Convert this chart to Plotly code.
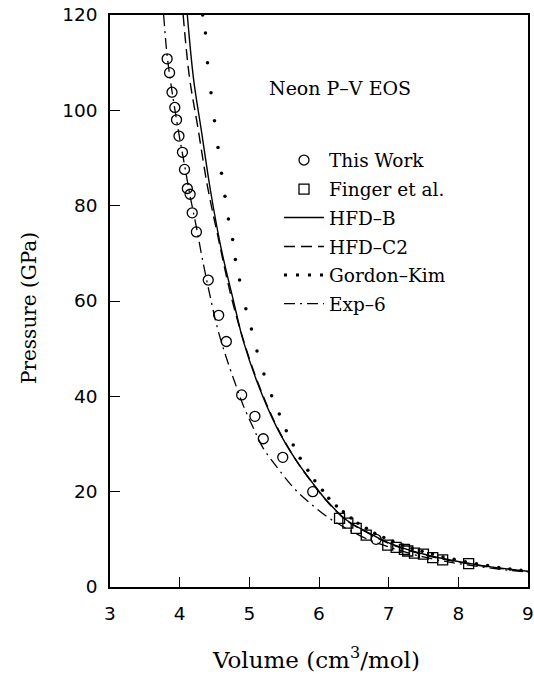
import plotly.graph_objects as go

# ---- data ----
tw_v = [3.82, 3.855, 3.89, 3.93, 3.955, 3.99, 4.04, 4.07, 4.11, 4.15, 4.18, 4.24, 4.41, 4.56, 4.67, 4.89, 5.08, 5.20, 5.48, 5.91, 6.82]
tw_p = [110.8, 107.9, 103.8, 100.6, 98.0, 94.6, 91.2, 87.6, 83.6, 82.4, 78.5, 74.5, 64.4, 57.0, 51.5, 40.3, 35.8, 31.1, 27.2, 20.0, 10.0]

fi_v = [6.295, 6.414, 6.534, 6.678, 6.987, 7.107, 7.226, 7.274, 7.370, 7.499, 7.632, 7.775, 8.148]
fi_p = [14.4, 13.4, 12.3, 10.9, 8.8, 8.3, 7.9, 7.55, 7.1, 6.9, 6.15, 5.7, 4.9]

hfdb_v = [4.11, 4.20, 4.31, 4.45, 4.60, 4.77, 4.91, 5.12, 5.39, 5.67, 5.91, 6.10, 6.39, 6.68, 7.01, 7.58, 8.30, 9.0]
hfdb_p = [120, 106.5, 95.9, 82.5, 70.7, 60.2, 51.8, 42.7, 33.6, 26.6, 21.8, 18.3, 14.1, 11.6, 9.2, 6.6, 4.6, 3.3]

hfdc2_v = [4.05, 4.14, 4.26, 4.40, 4.55, 4.73, 4.90, 5.12, 5.39, 5.67, 5.91, 6.10, 6.39, 6.68, 7.01, 7.58, 8.30, 9.0]
hfdc2_p = [120, 107, 96.5, 84, 73.5, 61.5, 52.5, 43, 33.8, 26.6, 21.7, 18.2, 14.0, 11.5, 9.1, 6.5, 4.5, 3.2]

gk_v = [4.33, 4.37, 4.40, 4.45, 4.50, 4.55, 4.60, 4.65, 4.70, 4.76, 4.80, 4.86, 4.95, 5.03, 5.11, 5.21, 5.32,
        5.43, 5.53, 5.63, 5.73, 5.84, 5.94, 6.05, 6.14, 6.25, 6.35, 6.46, 6.56, 6.68, 6.80, 6.93, 7.06, 7.20,
        7.34, 7.48, 7.63, 7.78, 7.94, 8.10, 8.26, 8.42, 8.58, 8.74, 8.90]
gk_p = [120, 116.2, 110, 103.7, 97.8, 92.2, 86.8, 82.0, 77.2, 72.9, 68.7, 64.4, 58.4, 54.1, 49.5, 44.7, 40.1,
        36.3, 32.8, 29.8, 27.0, 24.5, 22.3, 20.3, 18.6, 17.0, 15.8, 14.5, 13.4, 12.3, 11.3, 10.4, 9.6, 8.8,
        8.1, 7.5, 6.9, 6.3, 5.8, 5.3, 4.9, 4.5, 4.1, 3.8, 3.5]

e6_v = [3.77, 3.82, 3.89, 3.99, 4.07, 4.15, 4.24, 4.33, 4.43, 4.53, 4.65, 4.79, 4.91, 5.05, 5.20, 5.41, 5.63, 5.87, 6.15, 6.39, 6.70, 7.00, 7.50, 8.00, 8.50, 9.00]
e6_p = [120, 111.5, 104, 95, 88.5, 82, 75.5, 68.5, 61.5, 55, 49, 43, 38.2, 33.6, 29.1, 24.9, 20.9, 17.6, 14.4, 12.3, 10.0, 8.4, 6.3, 4.9, 3.9, 3.1]

x_ticks = [3, 4, 5, 6, 7, 8, 9]
y_ticks = [0, 20, 40, 60, 80, 100, 120]

SERIF = "DejaVu Serif"
SANS = "DejaVu Sans"
BLK = "black"

fig = go.Figure()

fig.add_trace(go.Scatter(x=hfdb_v, y=hfdb_p, mode="lines", name="HFD\u2013B", legend="legend3",
                         line=dict(color=BLK, width=1.4, shape="spline", smoothing=1.0)))
fig.add_trace(go.Scatter(x=hfdc2_v, y=hfdc2_p, mode="lines", name="HFD\u2013C2", legend="legend4",
                         line=dict(color=BLK, width=1.4, dash="11px,6px", shape="spline", smoothing=1.0)))
fig.add_trace(go.Scatter(x=gk_v, y=gk_p, mode="markers", name="Gordon\u2013Kim", showlegend=False,
                         marker=dict(color=BLK, size=3.5, symbol="circle")))
fig.add_trace(go.Scatter(x=[None], y=[None], mode="lines", name="Gordon\u2013Kim", legend="legend5",
                         line=dict(color=BLK, width=3, dash="3px,9px")))
fig.add_trace(go.Scatter(x=e6_v, y=e6_p, mode="lines", name="Exp\u20136", legend="legend6",
                         line=dict(color=BLK, width=1.3, dash="11px,5px,2px,5px", shape="spline", smoothing=1.0)))
fig.add_trace(go.Scatter(x=tw_v, y=tw_p, mode="markers", name="This Work", legend="legend",
                         marker=dict(symbol="circle-open", size=10, color=BLK, line=dict(width=1.3, color=BLK))))
fig.add_trace(go.Scatter(x=fi_v, y=fi_p, mode="markers", name="Finger et al.", legend="legend2",
                         marker=dict(symbol="square-open", size=10, color=BLK, line=dict(width=1.3, color=BLK))))

# page body margin is removed (post_script below), so figure pixels == window pixels
W, H = 534, 675
L, R, T, B = 110, 6, 15, 88
pw, ph = W - L - R, H - T - B


def px(xp):
    return (xp - L) / pw


def py(yp):
    return (H - B - yp) / ph


leg_rows = [160.5, 189.5, 218, 247, 275.5, 304]
leg_left = 279
legfont = dict(family=SERIF, size=18.5, color=BLK)
legs = {}
for i, yy in enumerate(leg_rows):
    key = "legend" if i == 0 else f"legend{i + 1}"
    legs[key] = dict(x=px(leg_left), y=py(yy), xanchor="left", yanchor="middle",
                     bgcolor="rgba(0,0,0,0)", borderwidth=0, font=legfont, itemwidth=40)

axis_common = dict(showline=True, linecolor=BLK, linewidth=1.5, mirror=True, ticks="inside",
                   ticklen=10, tickwidth=1.2, tickcolor=BLK, showgrid=False, zeroline=False,
                   ticklabeloverflow="allow", automargin=False,
                   tickfont=dict(family=SANS, size=18.5, color=BLK))

fig.update_layout(
    width=W, height=H,
    margin=dict(l=L, r=R, t=T, b=B, autoexpand=False),
    paper_bgcolor="white", plot_bgcolor="white",
    xaxis=dict(range=[3, 9], tickvals=x_ticks, ticklabelstandoff=9, **axis_common),
    yaxis=dict(range=[0, 120], tickvals=y_ticks, ticklabelstandoff=7, **axis_common),
    annotations=[
        dict(text="Neon P\u2013V EOS", x=px(340), y=py(88), xref="paper", yref="paper",
             xanchor="center", yanchor="middle",
             showarrow=False, font=dict(family=SERIF, size=19, color=BLK)),
        dict(text="Volume (cm<sup>3</sup>/mol)", x=px(316), y=py(658), xref="paper", yref="paper",
             xanchor="center", yanchor="middle",
             showarrow=False, font=dict(family=SERIF, size=23, color=BLK)),
        dict(text="Pressure (GPa)", x=px(29), y=py(308), xref="paper", yref="paper", textangle=-90,
             xanchor="center", yanchor="middle",
             showarrow=False, font=dict(family=SERIF, size=20, color=BLK)),
    ],
    **legs,
)

fig.write_html("out.html", config={"displayModeBar": False},
               post_script="document.body.style.margin='0px';document.body.style.overflow='hidden';")
